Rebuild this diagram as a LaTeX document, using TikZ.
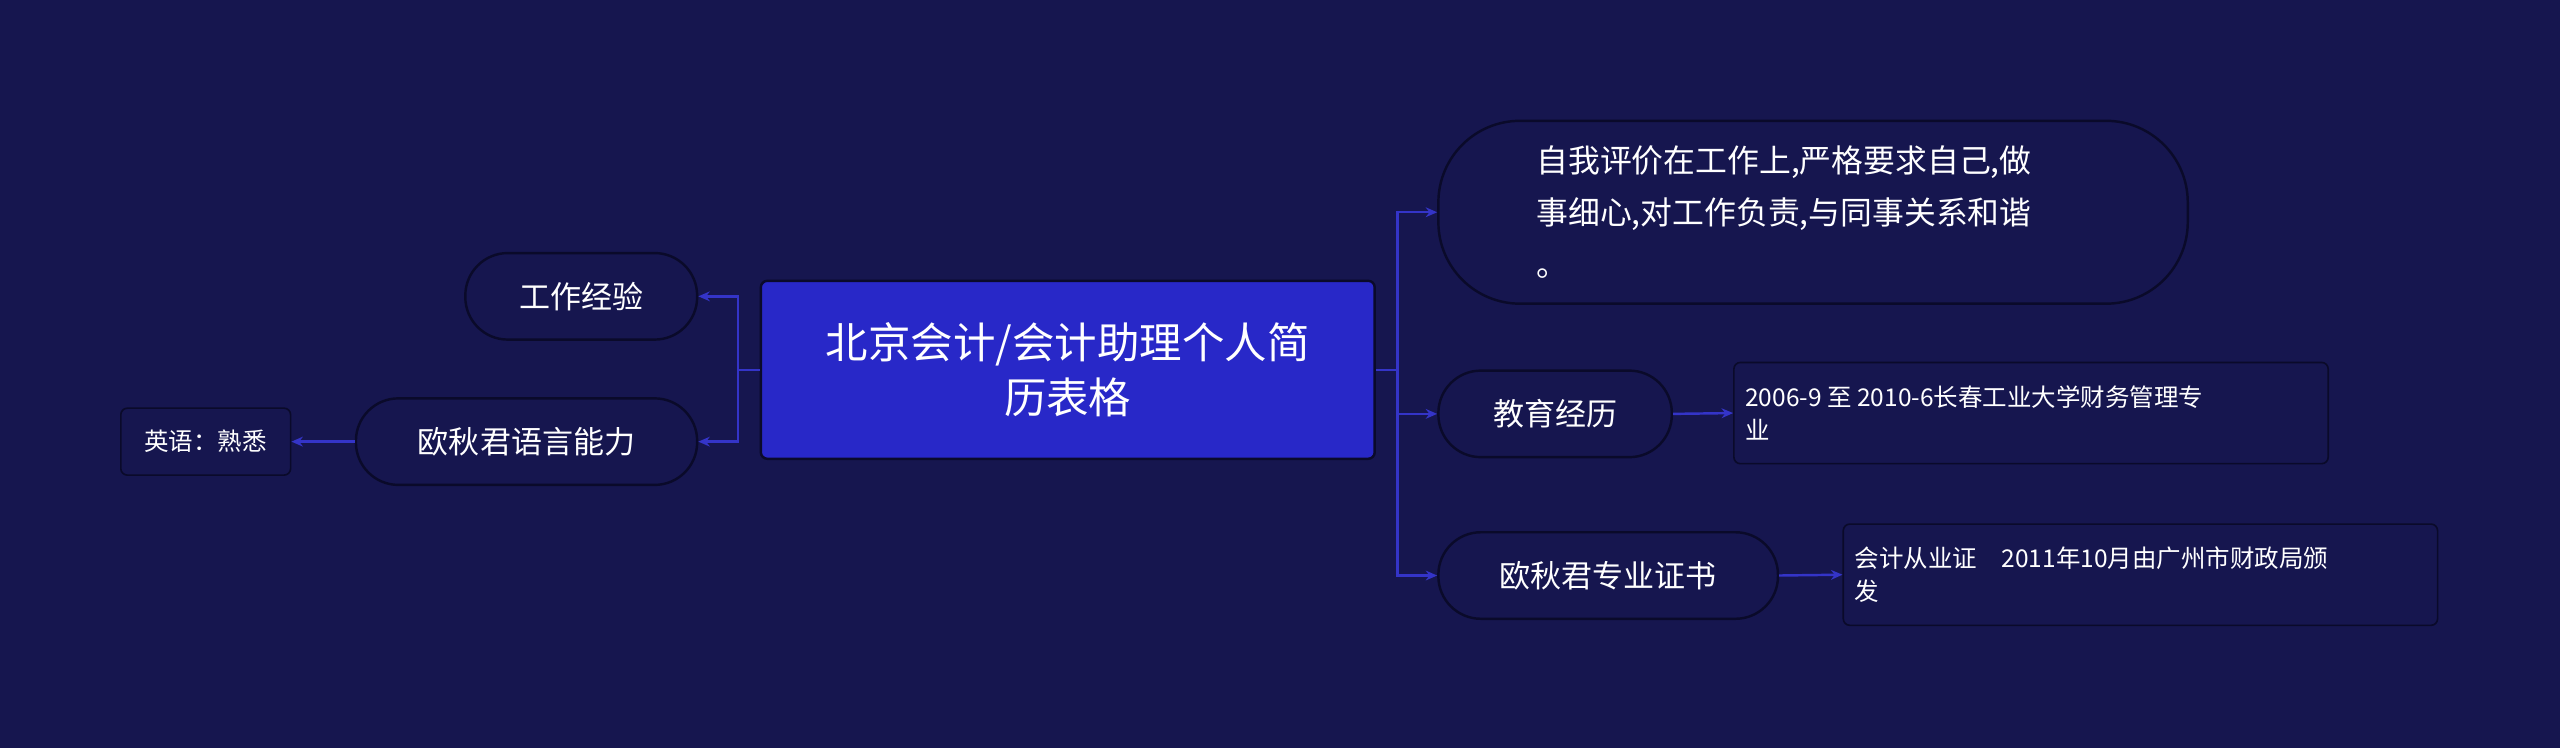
\documentclass[tikz,border=0pt]{standalone}
\usepackage{fontspec}
\setmainfont{Noto Sans CJK SC}
\usetikzlibrary{arrows.meta}
\definecolor{bg}{HTML}{16164F}
\definecolor{ln}{HTML}{3434C8}
\definecolor{ctr}{HTML}{2828C8}
\definecolor{bd}{HTML}{0A0A2A}
\begin{document}
\begin{tikzpicture}[x=1pt,y=-1pt,
  pill/.style={draw=bd,line width=1.5pt,fill=bg,rounded corners=26pt,text=white,font=\fontsize{19}{24}\selectfont,minimum height=53pt,inner sep=0pt},
  leaf/.style={draw=bd,line width=1pt,fill=bg,rounded corners=4pt,text=white,font=\fontsize{15}{20}\selectfont,align=left,inner sep=0pt},
  conn/.style={ln,line width=1.5pt},
  arr/.style={conn,-{Stealth[length=7pt,width=6pt]}}]
\fill[bg] (0,0) rectangle (1568,458);
\node[draw=bd,line width=1.5pt,fill=ctr,rounded corners=4pt,minimum width=376pt,minimum height=109pt,text=white,align=center,font=\fontsize{26}{34}\selectfont] (c) at (654,226.5) {北京会计/会计助理个人简\\历表格};
\node[pill,minimum width=142pt] (w) at (356,181.5) {工作经验};
\node[pill,minimum width=209pt] (l) at (322.5,270.5) {欧秋君语言能力};
\node[leaf,minimum width=104pt,minimum height=41pt,align=center] (e) at (126,270.5) {英语：熟悉};
\node[draw=bd,line width=1.5pt,fill=bg,rounded corners=50pt,minimum width=459pt,minimum height=112pt,text=white,font=\fontsize{19.5}{32}\selectfont,align=left,inner sep=0pt] (s) at (1110.5,130) {\hspace*{40pt}\parbox{360pt}{自我评价在工作上,严格要求自己,做\\事细心,对工作负责,与同事关系和谐\\。}\hspace*{19pt}};
\node[pill,minimum width=143pt] (ed) at (952.5,253.5) {教育经历};
\node[leaf,minimum width=364pt,minimum height=62pt] (ed2) at (1244,253) {\parbox{350pt}{2006-9 至 2010-6长春工业大学财务管理专\\业}};
\node[pill,minimum width=208pt] (cert) at (985,352.5) {欧秋君专业证书};
\node[leaf,minimum width=364pt,minimum height=62pt] (cert2) at (1311,352) {\parbox{350pt}{会计从业证\quad 2011年10月由广州市财政局颁\\发}};
\coordinate (rj) at (856,226.5);
\coordinate (lj) at (452,226.5);
\draw[conn] (c.east) -- (rj);
\draw[arr] (rj) |- (s.west);
\draw[arr] (rj) |- (ed.west);
\draw[arr] (rj) |- (cert.west);
\draw[conn] (c.west) -- (lj);
\draw[arr] (lj) |- (w.east);
\draw[arr] (lj) |- (l.east);
\draw[arr] (l.west) -- (e.east);
\draw[arr] (ed.east) -- (ed2.west);
\draw[arr] (cert.east) -- (cert2.west);
\end{tikzpicture}
\end{document}
